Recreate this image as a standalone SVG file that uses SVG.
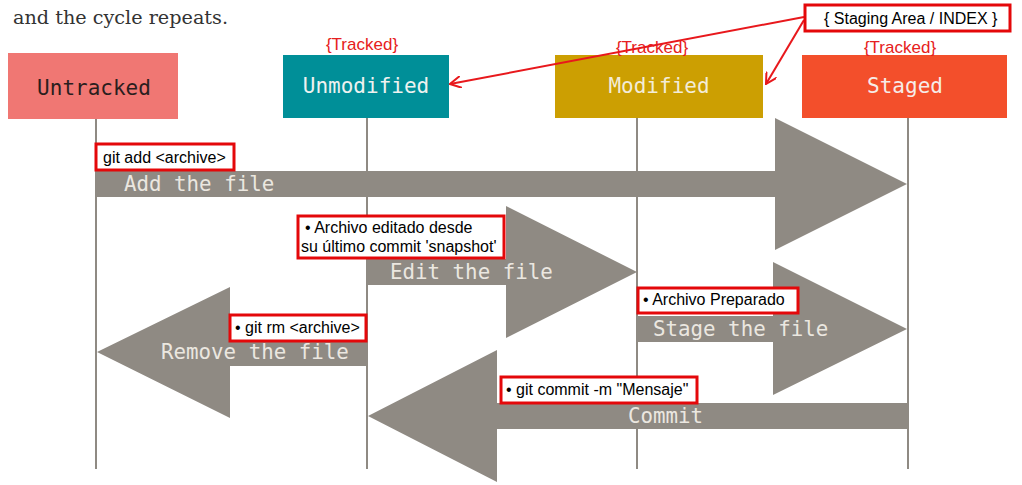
<svg xmlns="http://www.w3.org/2000/svg" width="1022" height="485" viewBox="0 0 1022 485">
<defs>
<style>
.state{font-family:"DejaVu Sans Mono","Liberation Mono",monospace;font-size:21px;text-anchor:middle}
.arr{fill:#8f8a83}
.alabel{font-family:"DejaVu Sans Mono","Liberation Mono",monospace;font-size:20.8px;fill:#ebe7e0}
.life{stroke:#8f8a83;stroke-width:2}
.note{fill:#fff;stroke:#e4080a;stroke-width:3}
.ntext{font-family:"Liberation Sans",Arial,sans-serif;font-size:16px;fill:#000}
.tracked{font-family:"Liberation Sans",Arial,sans-serif;font-size:17px;fill:#e62020;text-anchor:middle}
.redline{stroke:#e8181c;stroke-width:2;fill:none}
</style>
<marker id="open" viewBox="0 0 12 12" refX="11" refY="6" markerWidth="12" markerHeight="12" markerUnits="userSpaceOnUse" orient="auto">
<path d="M0,0 L11,6 L0,12" fill="none" stroke="#e8181c" stroke-width="2"/>
</marker>
</defs>
<rect width="1022" height="485" fill="#fff"/>
<text x="13" y="24" font-family="'DejaVu Serif','Liberation Serif',serif" font-size="19" fill="#333" textLength="215" lengthAdjust="spacingAndGlyphs">and the cycle repeats.</text>

<g id="lifelines">
<line class="life" x1="96" y1="119" x2="96" y2="469"/>
<line class="life" x1="367" y1="118" x2="367" y2="469"/>
<line class="life" x1="637" y1="118" x2="637" y2="469"/>
<line class="life" x1="908" y1="118" x2="908" y2="469"/>
</g>

<g id="untracked">
<rect x="8" y="53" width="170" height="66" fill="#f07773"/>
<text class="state" x="94" y="95" fill="#2a1e1e" font-size="22.5">Untracked</text>
</g>
<g id="unmodified">
<rect x="283" y="55" width="166" height="63" fill="#008f98"/>
<text class="state" x="366" y="93" fill="#eef2f0">Unmodified</text>
<text class="tracked" x="362" y="50">{Tracked}</text>
</g>
<g id="modified">
<rect x="555" y="55" width="208" height="63" fill="#cc9f02"/>
<text class="state" x="659" y="93" fill="#f3ecd8">Modified</text>
<text class="tracked" x="652" y="53">{Tracked}</text>
</g>
<g id="staged">
<rect x="802" y="55" width="205" height="63" fill="#f34f2b"/>
<text class="state" x="905" y="93" fill="#f6ece8">Staged</text>
<text class="tracked" x="900" y="53">{Tracked}</text>
</g>

<g id="connectors">
<g id="add">
<polygon class="arr" points="96,171 775,171 775,118 907,184 775,250 775,197 96,197"/>
<text class="alabel" x="124" y="191">Add the file</text>
</g>
<g id="edit">
<polygon class="arr" points="367,259 506,259 506,206 637,272 506,338 506,285 367,285"/>
<text class="alabel" x="390" y="279">Edit the file</text>
</g>
<g id="stage">
<polygon class="arr" points="637,316 773,316 773,262 907,329 773,395 773,342 637,342"/>
<text class="alabel" x="653" y="336">Stage the file</text>
</g>
<g id="remove">
<polygon class="arr" points="367,340 230,340 230,287 97,352 230,418 230,366 367,366"/>
<text class="alabel" x="161" y="359">Remove the file</text>
</g>
<g id="commit">
<polygon class="arr" points="908,403 497,403 497,350 368,416 497,482 497,429 908,429"/>
<text class="alabel" x="628" y="423">Commit</text>
</g>
<line class="redline" x1="804" y1="17" x2="450" y2="84" marker-end="url(#open)"/>
<line class="redline" x1="804" y1="20" x2="766" y2="84" marker-end="url(#open)"/>
</g>

<g id="note-index">
<rect class="note" x="805" y="5" width="205" height="26"/>
<text class="ntext" x="824" y="24">{ Staging Area / INDEX }</text>
</g>
<g id="note-add">
<rect class="note" x="96" y="144" width="138" height="26"/>
<text class="ntext" x="103" y="163">git add &lt;archive&gt;</text>
</g>
<g id="note-edit">
<rect class="note" x="298" y="216" width="206" height="42"/>
<text class="ntext" x="305" y="233">• Archivo editado desde</text>
<text class="ntext" x="301" y="252">su último commit 'snapshot'</text>
</g>
<g id="note-stage">
<rect class="note" x="638" y="288" width="160" height="25"/>
<text class="ntext" x="643" y="305">• Archivo Preparado</text>
</g>
<g id="note-rm">
<rect class="note" x="230" y="315" width="136" height="26"/>
<text class="ntext" x="235" y="333">• git rm &lt;archive&gt;</text>
</g>
<g id="note-commit">
<rect class="note" x="501" y="377" width="196" height="26"/>
<text class="ntext" x="506" y="395">• git commit -m "Mensaje"</text>
</g>
</svg>
